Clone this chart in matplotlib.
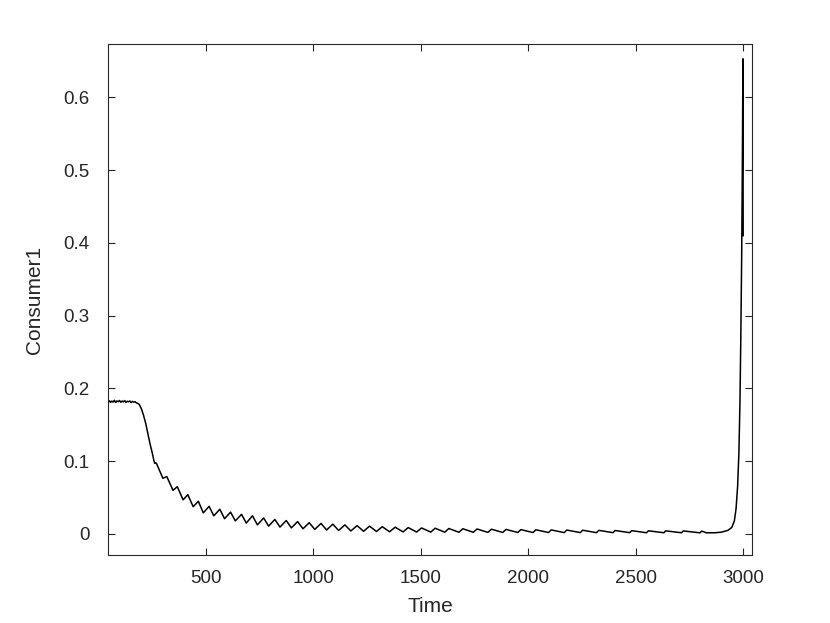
import matplotlib
matplotlib.use("Agg")
import matplotlib.pyplot as plt
import numpy as np

plt.rcParams['font.family'] = ['Liberation Sans', 'DejaVu Sans']

# ---- data ----
# early noisy plateau
plateau_t = [44, 50, 56, 62, 68, 74, 80, 86, 92, 98, 104, 110, 116, 122, 128,
             134, 140, 146, 152, 158, 164, 170, 176, 182]
plateau_v = [0.1815, 0.1832, 0.1808, 0.1826, 0.1812, 0.1838, 0.1806, 0.1829,
             0.1817, 0.1835, 0.1810, 0.1827, 0.1815, 0.1833, 0.1809, 0.1824,
             0.1816, 0.1828, 0.1805, 0.1822, 0.1812, 0.1818, 0.1803, 0.1796]
# decline
decline_t = [190, 200, 210, 220, 230, 240, 250, 258, 262, 266]
decline_v = [0.1780, 0.1720, 0.1630, 0.1520, 0.1380, 0.1240, 0.1120, 0.1010, 0.0970, 0.0980]

# oscillation peaks
peak_t = [270, 318, 367, 416, 465, 515, 565, 615, 666, 717, 769, 821, 874, 927,
          981, 1036, 1091, 1147, 1204, 1262, 1321, 1381, 1442, 1504, 1567, 1631,
          1696, 1762, 1829, 1897, 1966, 2036, 2107, 2180, 2254, 2329, 2405, 2482,
          2560, 2640, 2722, 2808]
peak_v = [0.0970, 0.0790, 0.0650, 0.0540, 0.0450, 0.0380, 0.0340, 0.0300, 0.0270,
          0.0250, 0.0220, 0.0200, 0.0185, 0.0170, 0.0155, 0.0145, 0.0135, 0.0125,
          0.0115, 0.0108, 0.0100, 0.0093, 0.0088, 0.0083, 0.0079, 0.0075, 0.0072,
          0.0069, 0.0066, 0.0063, 0.0060, 0.0058, 0.0056, 0.0054, 0.0052, 0.0050,
          0.0048, 0.0046, 0.0044, 0.0043, 0.0042, 0.0040]
# oscillation troughs (each just before the next peak)
trough_t = [300, 347, 394, 441, 488, 537, 587, 637, 688, 740, 792, 845, 898, 952,
            1007, 1062, 1118, 1175, 1234, 1294, 1355, 1418, 1481, 1547, 1612,
            1678, 1745, 1813, 1882, 1952, 2023, 2095, 2168, 2243, 2318, 2395,
            2473, 2551, 2632, 2714, 2800]
trough_v = [0.0765, 0.0600, 0.0470, 0.0375, 0.0290, 0.0250, 0.0210, 0.0180, 0.0150,
            0.0125, 0.0108, 0.0095, 0.0084, 0.0072, 0.0063, 0.0055, 0.0048, 0.0042,
            0.0037, 0.0034, 0.0031, 0.0029, 0.0027, 0.0026, 0.0025, 0.0024, 0.0023,
            0.0022, 0.0021, 0.0021, 0.0020, 0.0020, 0.0019, 0.0019, 0.0018, 0.0018,
            0.0018, 0.0017, 0.0017, 0.0017, 0.0016]

# final blow-up
final_t = [2830, 2870, 2900, 2930, 2948, 2960, 2968, 2975, 2981, 2986, 2990,
           2994, 2997, 3000, 3001]
final_v = [0.0016, 0.0017, 0.0025, 0.0050, 0.0090, 0.0180, 0.0350, 0.0650, 0.1100,
           0.1800, 0.2700, 0.3800, 0.5000, 0.6530, 0.4100]

xticks = [500, 1000, 1500, 2000, 2500, 3000]
yticks = [0, 0.1, 0.2, 0.3, 0.4, 0.5, 0.6]

# ---- assemble series ----
osc_t = [peak_t[0]]
osc_v = [peak_v[0]]
for tt, tv, pt, pv in zip(trough_t, trough_v, peak_t[1:], peak_v[1:]):
    osc_t += [tt, pt]
    osc_v += [tv, pv]

t = plateau_t + decline_t + osc_t + final_t
v = plateau_v + decline_v + osc_v + final_v

# ---- plot ----
fig = plt.figure(figsize=(8.3, 6.23), dpi=100)
ax = fig.add_axes([0.130, 0.109, 0.776, 0.820])
ax.plot(t, v, color='black', linewidth=1.1, solid_joinstyle='round')

ax.set_xlim(44, 3042)
ax.set_ylim(-0.029, 0.673)
ax.set_xticks(xticks)
ax.set_yticks(yticks)
ax.set_yticklabels(['0', '0.1', '0.2', '0.3', '0.4', '0.5', '0.6'])

axc = '#262626'
for s in ax.spines.values():
    s.set_color(axc)
    s.set_linewidth(0.8)
ax.tick_params(direction='in', top=True, right=True, length=5, width=0.8,
               colors=axc, labelsize=13.5)
ax.tick_params(axis='x', pad=11)
ax.tick_params(axis='y', pad=13)
ax.set_xlabel('Time', fontsize=15, color=axc, labelpad=7)
ax.set_ylabel('Consumer1', fontsize=15, color=axc, labelpad=14)

fig.savefig('out.png', dpi=100)
